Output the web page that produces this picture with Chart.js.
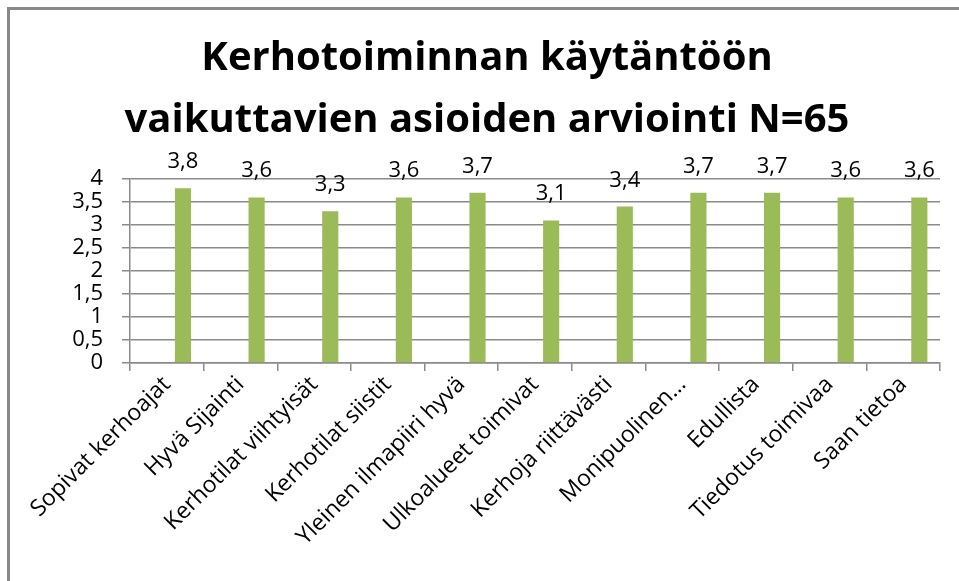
<!DOCTYPE html>
<html>
<head>
<meta charset="utf-8">
<script src="https://cdn.jsdelivr.net/npm/chart.js@4"></script>
<style>
    body { margin: 0; background: #fff; }
    #wrap { position: relative; width: 959px; height: 581px; overflow: hidden; }
    #frame {
        position: absolute; left: 7px; top: 7px; width: 980px; height: 600px;
        border-top: 3px solid #898989; border-left: 3px solid #898989;
    }
    #chart { position: absolute; left: 0; top: 0; }
</style>
</head>
<body>
<div id="wrap">
    <div id="frame"></div>
    <canvas id="chart" width="959" height="581"></canvas>
</div>
<script>
const titleLines = ["Kerhotoiminnan käytäntöön", "vaikuttavien asioiden arviointi N=65"];
const categories = [
    "Sopivat kerhoajat", "Hyvä Sijainti", "Kerhotilat viihtyisät", "Kerhotilat siistit",
    "Yleinen ilmapiiri hyvä", "Ulkoalueet toimivat", "Kerhoja riittävästi",
    "Monipuolinen…", "Edullista", "Tiedotus toimivaa", "Saan tietoa"
];
const scores = [3.8, 3.6, 3.3, 3.6, 3.7, 3.1, 3.4, 3.7, 3.7, 3.6, 3.6];
// the original sheet has two empty series in front of the scores
const emptyA = [];
const emptyB = [];
const yTicks = [0, 0.5, 1, 1.5, 2, 2.5, 3, 3.5, 4];

const fontFamily = "'Open Sans', sans-serif";
const gridColor = '#8a8a8a';
const comma = v => String(v).replace('.', ',');

const valueLabels = {
    id: 'valueLabels',
    afterDatasetsDraw(chart) {
        const ctx = chart.ctx;
        const meta = chart.getDatasetMeta(2);
        ctx.save();
        ctx.font = '22px ' + fontFamily;
        ctx.fillStyle = '#000';
        ctx.textAlign = 'center';
        ctx.textBaseline = 'alphabetic';
        meta.data.forEach((bar, i) => {
            ctx.fillText(comma(scores[i]), bar.x, bar.y - 20);
        });
        ctx.restore();
    }
};

new Chart(document.getElementById('chart'), {
    type: 'bar',
    data: {
        labels: categories,
        datasets: [
            { data: emptyA, backgroundColor: '#4f81bd' },
            { data: emptyB, backgroundColor: '#c0504d' },
            { data: scores, backgroundColor: '#9bbb59' }
        ]
    },
    options: {
        responsive: false,
        animation: false,
        events: [],
        categoryPercentage: 0.658,
        barPercentage: 1,
        layout: { padding: { left: 34, right: 19, top: 0, bottom: 0 } },
        plugins: {
            legend: { display: false },
            tooltip: { enabled: false },
            title: {
                display: true,
                text: titleLines,
                color: '#000',
                font: { family: fontFamily, size: 40, weight: 'bold', lineHeight: 1.55 },
                padding: { top: 28, bottom: 27 }
            }
        },
        scales: {
            x: {
                grid: {
                    drawOnChartArea: false,
                    drawTicks: true,
                    tickLength: 8,
                    color: gridColor,
                    lineWidth: 1.5
                },
                border: { color: gridColor, width: 1.5 },
                ticks: {
                    color: '#000',
                    font: { family: fontFamily, size: 23 },
                    minRotation: 45,
                    maxRotation: 45,
                    autoSkip: false,
                    padding: 0
                },
                afterFit(s) { s.height = 218; }
            },
            y: {
                min: 0,
                max: 4,
                afterBuildTicks(s) { s.ticks = yTicks.map(v => ({ value: v })); },
                grid: { color: gridColor, lineWidth: 1.5, tickLength: 8 },
                border: { color: gridColor, width: 1.5 },
                ticks: {
                    color: '#000',
                    autoSkip: false,
                    font: { family: fontFamily, size: 22, lineHeight: 1 },
                    padding: 19,
                    callback: v => comma(v)
                },
                afterFit(s) { s.width = 96; }
            }
        }
    },
    plugins: [valueLabels]
});
</script>
</body>
</html>
